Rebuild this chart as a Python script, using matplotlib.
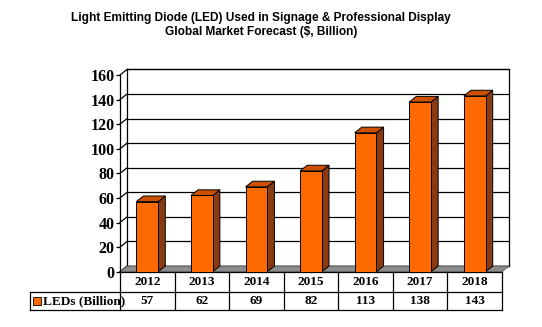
import numpy as np
import matplotlib.pyplot as plt
from matplotlib.patches import Polygon, Rectangle
from matplotlib.transforms import blended_transform_factory

#%% data
years = ['2012', '2013', '2014', '2015', '2016', '2017', '2018']
leds = [57, 62, 69, 82, 113, 138, 143]
yticks = [0, 20, 40, 60, 80, 100, 120, 140, 160]
series_name = 'LEDs (Billion)'
title = ('Light Emitting Diode (LED) Used in Signage & Professional Display\n'
         'Global Market Forecast ($, Billion)')

#%% style
c_front = '#ff6a00'
c_top = '#cc5000'
c_side = '#8a3a10'
c_floor = '#8c8c8c'
serif = 'Liberation Serif'
sans = 'Liberation Sans'

fig = plt.figure(figsize=(5.42, 3.27), dpi=100)
ax = fig.add_axes([0.2214, 0.1691, 0.7048, 0.6015])

n = len(years)
x = np.arange(n)
ax.set_xlim(-0.5, n - 0.5)
ax.set_ylim(0, 160)

# depth offset of the 3d look (data units)
dx, dy = 0.13, 4.6
lw = 0.9

# back wall + gridlines
x0, x1 = -0.5, n - 0.5
ax.add_patch(Rectangle((x0 + dx, dy), n, 160, facecolor='white',
                       edgecolor='black', lw=lw, clip_on=False, zorder=1))
for v in yticks:
    ax.plot([x0 + dx, x1 + dx], [v + dy, v + dy], color='black', lw=lw,
            clip_on=False, zorder=1)
    ax.plot([x0, x0 + dx], [v, v + dy], color='black', lw=lw,
            clip_on=False, zorder=1)

# floor
ax.add_patch(Polygon([(x0, 0), (x1, 0), (x1 + dx, dy), (x0 + dx, dy)],
                     closed=True, facecolor=c_floor, edgecolor='#555555',
                     lw=0.6, clip_on=False, zorder=2))

# bars
hw = 0.2
for xi, v in zip(x, leds):
    l, r = xi - hw, xi + hw
    ax.add_patch(Polygon([(r, 0), (r + dx, dy), (r + dx, v + dy), (r, v)],
                         closed=True, facecolor=c_side, edgecolor='black',
                         lw=0.7, clip_on=False, zorder=3))
    ax.add_patch(Polygon([(l, v), (r, v), (r + dx, v + dy), (l + dx, v + dy)],
                         closed=True, facecolor=c_top, edgecolor='black',
                         lw=0.7, clip_on=False, zorder=3))
    ax.add_patch(Rectangle((l, 0), 2 * hw, v, facecolor=c_front,
                           edgecolor='black', lw=0.7, clip_on=False, zorder=4))

# axis
for s in ['top', 'right', 'bottom']:
    ax.spines[s].set_visible(False)
ax.spines['left'].set_linewidth(lw)
ax.spines['left'].set_zorder(5)
ax.set_yticks(yticks)
ax.set_yticklabels([str(v) for v in yticks], fontfamily=serif,
                   fontweight='bold', fontsize=11.5)
ax.tick_params(axis='y', direction='out', length=3, width=lw, pad=1)
ax.set_xticks([])
ax.patch.set_visible(False)

#%% data table below
tr = blended_transform_factory(ax.transData, ax.transAxes)
r0, r1, r2 = 0.0, -0.103, -0.195
xl = x0 - 90 / 54.6
tfont = dict(fontfamily=serif, fontweight='bold', fontsize=9.5)
ax.plot([x0, x1], [r0, r0], color='black', lw=lw, transform=tr, clip_on=False)
ax.plot([xl, x1], [r1, r1], color='black', lw=lw, transform=tr, clip_on=False)
ax.plot([xl, x1], [r2, r2], color='black', lw=lw, transform=tr, clip_on=False)
ax.plot([xl, xl], [r1, r2], color='black', lw=lw, transform=tr, clip_on=False)
for i in range(n + 1):
    ax.plot([x0 + i, x0 + i], [r0, r2], color='black', lw=lw, transform=tr,
            clip_on=False)
for xi, yr, v in zip(x, years, leds):
    ax.text(xi, (r0 + r1) / 2, yr, ha='center', va='center', transform=tr, **tfont)
    ax.text(xi, (r1 + r2) / 2, str(v), ha='center', va='center', transform=tr, **tfont)

ax.add_patch(Rectangle((xl + 3 / 54.6, (r1 + r2) / 2 - 0.018), 8 / 54.6, 0.036,
                       facecolor=c_front, edgecolor='black', lw=0.6,
                       transform=tr, clip_on=False))
ax.text(xl + 13 / 54.6, (r1 + r2) / 2, series_name, ha='left', va='center',
        transform=tr, **tfont)

fig.text(0.4815, 0.9235, title, ha='center', va='center', fontfamily=sans,
         fontweight='bold', fontsize=8.6, linespacing=1.15)

fig.savefig('out.png', dpi=100)
